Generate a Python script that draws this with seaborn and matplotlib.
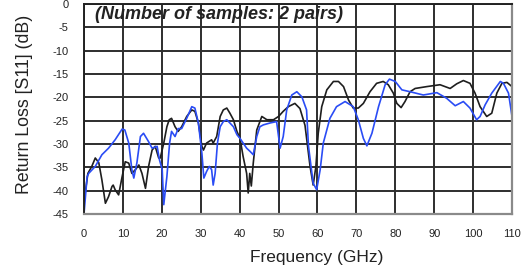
import numpy as np
import pandas as pd
import matplotlib
matplotlib.use("Agg")
import matplotlib.pyplot as plt
import seaborn as sns

# --- data ---
freq_black = [0, 0.3, 1, 2, 2.9, 3.8, 4.6, 5.5, 6.3, 7.2, 7.5, 8, 8.9, 9.8, 10.6, 11.5, 12.3, 13.2,
              14.1, 14.9, 15.8, 16.6, 17.5, 18.3, 19.2, 19.6, 20.5, 21.3, 21.9, 22.5, 23.4, 24.2,
              25.1, 26.4, 27.7, 28.5, 29.4, 30.3, 30.7, 31.5, 32.8, 33.2, 34.1, 35, 35.8, 36.7,
              37.5, 38.4, 39.3, 40.1, 40.9, 41.8, 42.2, 42.6, 43.0, 43.5, 44.4, 45.7, 47, 48.7,
              50, 51.2, 52.5, 54.2, 55.5, 56.8, 58.1, 58.9, 59.6, 60.2, 61.1, 62.4, 64.1, 65.4,
              66.7, 68, 69.2, 70.5, 71.8, 73.5, 75.2, 76.9, 78.2, 79.5, 80.4, 81.5, 82.5, 83.8,
              85.1, 88.1, 91.5, 94.1, 95.8, 97.5, 99.2, 100.5, 101.8, 103.5, 104.8, 106.1, 107.4,
              108.7, 110]
rl_black = [-41, -40.5, -36.3, -34.8, -33, -34, -37.7, -42.7, -41.3, -39.1, -38.8, -39.8, -40.9,
            -37, -33.8, -34.1, -36.3, -35.5, -34.5, -36.3, -39.5, -34.8, -31.3, -30.5, -33, -33,
            -29.8, -26.3, -24.8, -24.5, -26.3, -27.3, -26.3, -24.1, -22.7, -23, -25.5, -30.5,
            -31.3, -29.8, -29.1, -29.8, -28.4, -24.1, -22.7, -22.3, -23.4, -24.8, -27.3, -28.8,
            -32.7, -36.3, -40.5, -36.3, -39, -34.1, -27, -24.1, -24.8, -24.8, -24.1, -23, -22,
            -21.3, -22.4, -26, -34.8, -38.8, -34.8, -27.7, -22, -18.4, -16.6, -16.6, -17.7,
            -20.6, -22.3, -22.3, -21.3, -18.8, -17, -16.6, -17.3, -19.1, -21.3, -22.2, -20.9,
            -18.8, -18.1, -17.7, -17.3, -18.1, -17.1, -16.4, -17, -19.1, -22, -24.1, -23.4,
            -19.1, -17, -16.8, -17.7]

freq_blue = [0, 0.8, 1.2, 2.9, 4.6, 6.3, 8.0, 9.8, 10.5, 11.5, 12.3, 12.8, 13.6, 14.5, 15.3, 16.6,
             17.5, 18.8, 19.4, 20.1, 20.5, 21.3, 22, 22.5, 23.4, 24.2, 25.1, 26.4, 27.7, 28.5,
             29.4, 30.3, 30.8, 31.5, 32.2, 32.8, 33.2, 33.7, 34.3, 35, 35.8, 36.7, 37.5, 38.4,
             39.3, 40.1, 40.9, 41.8, 42.7, 43.5, 44.4, 45.2, 46.1, 47.8, 49.5, 50.4, 51.2, 52.1,
             53.4, 54.7, 56, 57.2, 57.7, 58.9, 59.8, 60.7, 61.5, 63.2, 64.9, 67.1, 69.2, 70.5,
             71.8, 72.7, 74, 75.7, 77.4, 78.5, 80, 81.7, 83.8, 87.2, 90.7, 93.2, 95.4, 97.5,
             99.2, 100.9, 101.8, 103.1, 104.8, 107, 107.8, 109.1, 110]
rl_blue = [-45, -37, -36.3, -34.8, -32.3, -30.9, -29.1, -26.8, -27, -29.8, -35.5, -37.3, -34,
           -28.4, -27.7, -29.5, -30.9, -30.5, -33.4, -35.5, -43, -37, -29.8, -27.3, -28.4, -26.7,
           -26.7, -24.5, -22, -22.3, -25.5, -32, -37.3, -35.9, -34.8, -35.5, -38.8, -36.3, -29.8,
           -26.3, -25.2, -24.8, -25.5, -26.3, -28, -28.8, -29.8, -30.9, -31.6, -32.3, -28.4,
           -26.3, -25.9, -25.5, -25.2, -30.9, -28.4, -22.7, -19.5, -18.8, -19.9, -22.7, -30.5,
           -38.4, -39.8, -35.5, -29.8, -24.5, -22, -20.9, -22, -24.8, -28.8, -30.4, -27.7, -22,
           -17.3, -16.1, -16.6, -18.4, -18.8, -19.5, -19, -20.2, -21.8, -20.9, -22.3, -24.8,
           -24.1, -21.6, -19.1, -16.6, -17, -19.1, -24.1]

x_ticks = list(range(0, 111, 10))
y_ticks = list(range(0, -46, -5))

df_black = pd.DataFrame({"freq": freq_black, "rl": rl_black})
df_blue = pd.DataFrame({"freq": freq_blue, "rl": rl_blue})

sns.set_theme(style="white")
plt.rcParams["font.family"] = ["Liberation Sans", "DejaVu Sans"]

fig = plt.figure(figsize=(5.28, 2.68), dpi=100)
ax = fig.add_axes([84 / 528, 1 - 214 / 268, 428 / 528, 210 / 268])

sns.lineplot(data=df_black, x="freq", y="rl", ax=ax, color="#1e1e1e", lw=1.2,
             estimator=None, sort=False)
sns.lineplot(data=df_blue, x="freq", y="rl", ax=ax, color="#2a4cf5", lw=1.2,
             estimator=None, sort=False)

ax.set_xlim(0, 110)
ax.set_ylim(-45, 0)
ax.set_xticks(x_ticks)
ax.set_yticks(y_ticks)
ax.set_xticklabels([str(t) for t in x_ticks])
ax.set_yticklabels([str(t) for t in y_ticks])
ax.grid(True, which="major", axis="both", color="#2e2e2e", linewidth=1.4, linestyle="-")
ax.set_axisbelow(True)
ax.tick_params(axis="both", length=0, labelsize=8, colors="#222222")
ax.tick_params(axis="x", pad=11)
ax.tick_params(axis="y", pad=11)

for side in ["left", "top"]:
    ax.spines[side].set_color("#222222")
    ax.spines[side].set_linewidth(1.4)
for side in ["right", "bottom"]:
    ax.spines[side].set_color("#8a8a8a")
    ax.spines[side].set_linewidth(1.6)

ax.set_xlabel("Frequency (GHz)", fontsize=12.5, color="#222222")
ax.set_ylabel("Return Loss [S11] (dB)", fontsize=12.8, color="#222222")
ax.xaxis.label.set_va("center")
ax.yaxis.label.set_va("center")
ax.xaxis.set_label_coords(0.544, -0.205)
ax.yaxis.set_label_coords(-0.138, 0.52)

ax.text(0.026, 0.948, "(Number of samples: 2 pairs)", transform=ax.transAxes,
        fontsize=13, fontweight="bold", fontstyle="italic", va="center", ha="left",
        color="#222222")

fig.savefig("out.png", dpi=100)
